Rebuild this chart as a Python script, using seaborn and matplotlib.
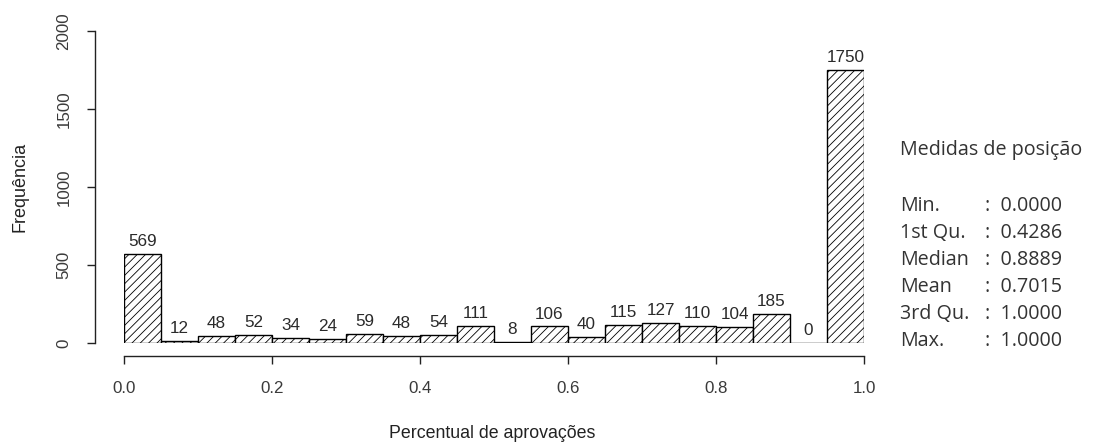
import numpy as np
import pandas as pd
import matplotlib
matplotlib.use("Agg")
import matplotlib.pyplot as plt
import seaborn as sns

# Histogram of approval percentages: 20 bins of width 0.05 on [0, 1]
bin_edges = [round(0.05 * i, 2) for i in range(21)]
counts = [569, 12, 48, 52, 34, 24, 59, 48, 54, 111,
          8, 106, 40, 115, 127, 110, 104, 185, 0, 1750]

x_ticks = [0.0, 0.2, 0.4, 0.6, 0.8, 1.0]
x_tick_labels = ["0.0", "0.2", "0.4", "0.6", "0.8", "1.0"]
y_ticks = [0, 500, 1000, 1500, 2000]

stat_names = ["Min.", "1st Qu.", "Median", "Mean", "3rd Qu.", "Max."]
stat_values = ["0.0000", "0.4286", "0.8889", "0.7015", "1.0000", "1.0000"]

sns.set_theme(style="white")
plt.rcParams["font.family"] = ["Liberation Sans", "DejaVu Sans"]
plt.rcParams["hatch.linewidth"] = 0.6

centers = [(bin_edges[i] + bin_edges[i + 1]) / 2 for i in range(len(counts))]
df = pd.DataFrame({"perc": centers, "freq": counts})

fig = plt.figure(figsize=(10.93, 4.43), dpi=100)
W, H = 1093, 443
ax = fig.add_axes([124 / W, (H - 343) / H, 740 / W, 312 / H])

sns.histplot(data=df, x="perc", weights="freq", bins=bin_edges, ax=ax,
             color="white", edgecolor="black", linewidth=1.0, alpha=1,
             hatch="////")

ax.set_xlim(0, 1)
ax.set_ylim(0, 2000)

# Count labels above every bar
for c, n in zip(centers, counts):
    ax.annotate(str(n), xy=(c, n), xytext=(0, 3.5), textcoords="offset points",
                ha="center", va="bottom", fontsize=12.3, color="#2a2a2a",
                annotation_clip=False)

# Detached R-style axes
for s in ["top", "right"]:
    ax.spines[s].set_visible(False)
ax.spines["left"].set_position(("outward", 29 * 0.72))
ax.spines["bottom"].set_position(("outward", 13 * 0.72))
ax.spines["left"].set_bounds(0, 2000)
ax.spines["bottom"].set_bounds(0, 1)
for s in ["left", "bottom"]:
    ax.spines[s].set_color("#222222")
    ax.spines[s].set_linewidth(1.0)

ax.set_xticks(x_ticks)
ax.set_xticklabels(x_tick_labels)
ax.set_yticks(y_ticks)
ax.set_yticklabels([str(v) for v in y_ticks], rotation=90, va="center")
ax.tick_params(axis="both", which="major", direction="out", length=6,
               width=1.0, color="#222222", labelsize=12.2, labelcolor="#3a3a3a",
               bottom=True, left=True)
ax.tick_params(axis="x", pad=12)
ax.tick_params(axis="y", pad=11)

ax.set_xlabel("")
ax.set_ylabel("")
fig.text(492 / W, 1 - 433 / H, "Percentual de aprovações", ha="center",
         va="center", fontsize=12.8, color="#222222")
fig.text(20 / W, 1 - 187 / H, "Frequência", ha="center", va="center",
         rotation=90, fontsize=13, color="#222222")

# Summary statistics panel
fig.text(900 / W, 1 - 150 / H, "Medidas de posição", ha="left", va="center",
         fontsize=14.2, family="Open Sans", color="#333333")
for i, (name, val) in enumerate(zip(stat_names, stat_values)):
    y = 1 - (206 + 27 * i) / H
    fig.text(900 / W, y, name, ha="left", va="center", fontsize=14.2,
             family="Open Sans", color="#333333")
    fig.text(985 / W, y, ":  " + val, ha="left", va="center", fontsize=14.2,
             family="Open Sans", color="#333333")

fig.savefig("out.png", dpi=100, facecolor="white")
